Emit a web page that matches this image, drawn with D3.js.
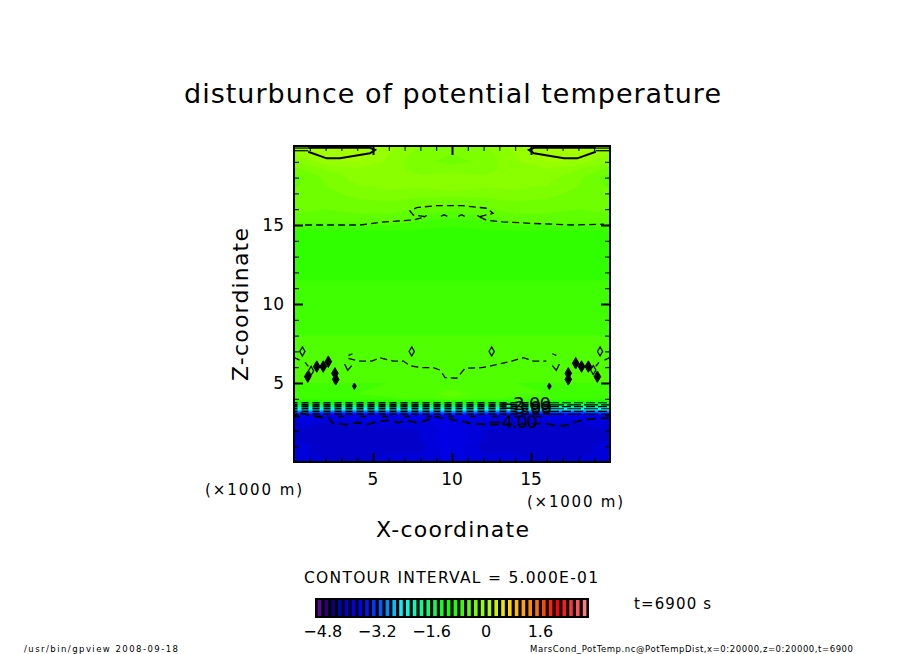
<!DOCTYPE html>
<html>
<head>
<meta charset="utf-8">
<script src="https://cdn.jsdelivr.net/npm/d3@7"></script>
<style>
  html, body { margin: 0; background: #fff; }
  text { font-family: "DejaVu Sans", sans-serif; fill: #000; }
</style>
</head>
<body>
<svg id="chart" width="904" height="654"></svg>
<script>
// values (km and K)
const xLevels = [0, 2, 4, 6, 8, 10, 12, 14, 16, 18, 20];
const zLevels = [0, 0.5, 1, 1.5, 2, 2.5, 2.8, 3, 3.2, 3.4, 3.6, 3.8, 4, 4.3, 5, 6, 7, 8, 9.5, 10.5, 11.5, 13, 14.5, 14.9, 15.2, 15.6, 16, 16.5, 17, 17.5, 18, 18.5, 19, 19.5, 20];
const fieldRows = [
  [-4.15, -4.15, -4.2, -4.2, -4.2, -4.05, -4.2, -4.2, -4.2, -4.15, -4.15],
  [-4.15, -4.25, -4.25, -4.2, -4.2, -4.05, -4.2, -4.2, -4.25, -4.25, -4.15],
  [-4.15, -4.25, -4.2, -4.25, -4.25, -4.0, -4.25, -4.25, -4.2, -4.25, -4.15],
  [-4.2, -4.3, -4.25, -4.25, -4.2, -4.0, -4.2, -4.25, -4.25, -4.3, -4.2],
  [-4.2, -4.3, -4.25, -4.25, -4.2, -4.05, -4.2, -4.25, -4.25, -4.3, -4.2],
  [-4.1, -4.2, -4.15, -4.15, -4.15, -4.0, -4.15, -4.15, -4.15, -4.2, -4.1],
  [-3.9, -4.05, -4.0, -4.0, -3.95, -3.85, -3.95, -4.0, -4.0, -4.05, -3.9],
  [-3.5, -3.7, -3.75, -3.7, -3.6, -3.5, -3.6, -3.7, -3.75, -3.7, -3.5],
  [-2.95, -3.0, -3.0, -3.0, -2.9, -2.85, -2.9, -3.0, -3.0, -3.0, -2.95],
  [-2.25, -2.25, -2.25, -2.2, -2.2, -2.15, -2.2, -2.2, -2.25, -2.25, -2.25],
  [-1.6, -1.55, -1.55, -1.5, -1.5, -1.45, -1.5, -1.5, -1.55, -1.55, -1.6],
  [-0.95, -0.92, -0.9, -0.9, -0.88, -0.85, -0.88, -0.9, -0.9, -0.92, -0.95],
  [-0.68, -0.66, -0.65, -0.62, -0.58, -0.52, -0.58, -0.62, -0.65, -0.66, -0.68],
  [-0.62, -0.62, -0.6, -0.58, -0.54, -0.46, -0.54, -0.58, -0.6, -0.62, -0.62],
  [-0.6, -0.6, -0.6, -0.6, -0.58, -0.56, -0.58, -0.6, -0.6, -0.6, -0.6],
  [-0.58, -0.58, -0.52, -0.5, -0.55, -0.57, -0.55, -0.5, -0.52, -0.58, -0.58],
  [-0.58, -0.58, -0.56, -0.56, -0.58, -0.58, -0.58, -0.56, -0.56, -0.58, -0.58],
  [-0.6, -0.6, -0.6, -0.6, -0.6, -0.6, -0.6, -0.6, -0.6, -0.6, -0.6],
  [-0.61, -0.61, -0.61, -0.61, -0.61, -0.61, -0.61, -0.61, -0.61, -0.61, -0.61],
  [-0.64, -0.64, -0.64, -0.64, -0.64, -0.64, -0.64, -0.64, -0.64, -0.64, -0.64],
  [-0.7, -0.7, -0.7, -0.7, -0.7, -0.7, -0.7, -0.7, -0.7, -0.7, -0.7],
  [-0.74, -0.74, -0.74, -0.74, -0.74, -0.74, -0.74, -0.74, -0.74, -0.74, -0.74],
  [-0.72, -0.72, -0.72, -0.72, -0.72, -0.72, -0.72, -0.72, -0.72, -0.72, -0.72],
  [-0.66, -0.66, -0.66, -0.66, -0.68, -0.7, -0.68, -0.66, -0.66, -0.66, -0.66],
  [-0.46, -0.46, -0.46, -0.5, -0.62, -0.66, -0.62, -0.5, -0.46, -0.46, -0.46],
  [-0.42, -0.43, -0.42, -0.42, -0.5, -0.55, -0.5, -0.42, -0.42, -0.43, -0.42],
  [-0.36, -0.4, -0.36, -0.35, -0.42, -0.48, -0.42, -0.35, -0.36, -0.4, -0.36],
  [-0.36, -0.4, -0.33, -0.3, -0.35, -0.38, -0.35, -0.3, -0.33, -0.4, -0.36],
  [-0.38, -0.35, -0.25, -0.22, -0.25, -0.25, -0.25, -0.22, -0.25, -0.35, -0.38],
  [-0.42, -0.3, -0.2, -0.18, -0.18, -0.12, -0.18, -0.18, -0.2, -0.3, -0.42],
  [-0.45, -0.28, -0.16, -0.16, -0.18, -0.1, -0.18, -0.16, -0.16, -0.28, -0.45],
  [-0.35, -0.2, -0.12, -0.15, -0.25, -0.25, -0.25, -0.15, -0.12, -0.2, -0.35],
  [-0.2, -0.05, 0, -0.12, -0.28, -0.33, -0.28, -0.12, 0, -0.05, -0.2],
  [-0.1, 0.08, 0.08, -0.1, -0.25, -0.3, -0.25, -0.1, 0.08, 0.08, -0.1],
  [-0.05, 0.12, 0.12, -0.05, -0.2, -0.25, -0.2, -0.05, 0.12, 0.12, -0.05]
];

// colour bar
const colorValues = [-5, -4.7, -4.5, -4.2, -3.6, -3, -2.45, -2, -1.1, -0.75, -0.55, -0.35, -0.1, 0.1, 0.6, 1.4, 2.1, 2.6, 3];
const colorHex = ["#6a0aa8", "#300070", "#0a0080", "#0000d8", "#0000ff", "#0070ff", "#00ffff", "#00ffa8", "#10ff00", "#30ff00", "#50ff00", "#70ff00", "#90ff00", "#a8ff00", "#ffe000", "#ff8000", "#ff0000", "#ff4040", "#ff9090"];
const colorTicks = [-4.8, -3.2, -1.6, 0, 1.6];

// contour lines, [x, z]
const line0Left = [[0.9, 19.64], [2.07, 19.22], [2.91, 19.22], [4.81, 19.54], [5.13, 19.75], [4.81, 19.89], [0.9, 19.89]];
const line0Right = [[19.1, 19.64], [17.93, 19.22], [17.09, 19.22], [15.19, 19.54], [14.87, 19.75], [15.19, 19.89], [19.1, 19.89]];
const line0Rims = [
  [[0, 19.7], [0.9, 19.7]], [[0, 19.87], [0.9, 19.87]],
  [[19.1, 19.7], [20, 19.7]], [[19.1, 19.87], [20, 19.87]]
];
const lineUpperLeft = [[0.7, 15], [4.18, 15], [5.44, 15.17], [7.53, 15.32], [8.1, 15.45]];
const lineUpperRight = [[11.77, 15.5], [12.2, 15.3], [13.2, 15.2], [15.1, 15.1], [17.6, 15], [19.6, 15.05]];
const lineUpperLoop = [[8.3, 15.53], [7.55, 15.63], [7.34, 15.89], [7.76, 16.1], [9.03, 16.23], [10.61, 16.23], [12.2, 16.06], [12.6, 15.74], [11.77, 15.53]];
const lineWave = [[3.44, 6.56], [4.07, 6.39], [4.92, 6.39], [5.44, 6.6], [6.28, 6.39], [6.92, 6.39], [7.34, 6.09], [8.08, 5.97], [8.82, 5.97], [9.24, 5.82], [9.56, 5.34], [10.3, 5.3], [10.82, 5.93], [11.88, 5.97], [12.72, 6.14], [13.78, 6.39], [14.51, 6.6], [15.15, 6.39], [15.97, 6.39]];
const lineWiggles = [
  [[0.05, 6.6], [0.35, 6.45]],
  [[0.7, 6.3], [0.9, 6.05]],
  [[3.2, 6.2], [3.4, 5.8], [3.65, 6.1]],
  [[3.45, 6.75], [3.7, 6.85]],
  [[16.35, 6.85], [16.6, 6.75]],
  [[16.35, 6.1], [16.6, 5.8], [16.8, 6.2]],
  [[19.1, 6.05], [19.3, 6.3]],
  [[19.65, 6.45], [19.95, 6.6]],
  [[8.2, 15.5], [8.4, 15.6]],
  [[11.6, 15.6], [11.8, 15.5]],
  [[9.3, 15.55], [9.5, 15.65], [9.7, 15.55]],
  [[10.4, 15.55], [10.6, 15.65], [10.8, 15.55]]
];
const lineMinus4 = [[0.4, 3.1], [1.4, 2.87], [2.2, 2.8], [2.46, 2.46], [3.3, 2.37], [4, 2.5], [4.65, 2.37], [5.3, 2.56], [5.9, 2.65], [6.6, 2.5], [7.2, 2.6], [7.9, 2.47], [8.4, 2.65], [9, 2.85], [9.7, 2.72], [10.5, 2.6], [11.2, 2.43], [12.5, 2.37], [16, 2.43], [16.6, 2.3], [17.2, 2.3], [17.7, 2.5], [18.5, 2.7], [19.1, 2.75], [19.9, 2.8]];
const stackLevels = [3.75, 3.62, 3.5, 3.37, 3.2, 3.03];
const sparseLevel = 2.88;
const stackBreak = 16.2;
const blobX = [0.87, 1.44, 1.85, 2.17, 2.59, 2.64, 19.2, 18.63, 18.2, 17.83, 17.36, 17.36];
const blobZ = [5.4, 6.04, 6.04, 6.35, 5.61, 5.23, 5.4, 6.04, 6.04, 6.25, 5.61, 5.23];
const dotX = [3.82, 16.16];
const dotZ = [4.8, 4.8];
const ringX = [0.53, 7.45, 12.51, 19.37, 1.08, 18.94];
const ringZ = [7, 7, 7, 7, 5.77, 5.82];
const lineLabels = ["−2.00", "−3.00"];

const width = 904;
const height = 654;
const plot = { left: 294, right: 610, top: 146, bottom: 462 };

const svg = d3.select("#chart");
const x = d3.scaleLinear().domain([0, 20]).range([plot.left, plot.right]);
const z = d3.scaleLinear().domain([0, 20]).range([plot.bottom, plot.top]);
const color = d3.scaleLinear().domain(colorValues).range(colorHex);

// grid index -> km, the z levels are not evenly spaced
const xOfIndex = d3.scaleLinear().domain(d3.range(xLevels.length)).range(xLevels).clamp(true);
const zOfIndex = d3.scaleLinear().domain(d3.range(zLevels.length)).range(zLevels).clamp(true);
const gridPath = d3.geoPath(d3.geoTransform({
  point(i, j) { this.stream.point(x(xOfIndex(i - 0.5)), z(zOfIndex(j - 0.5))); }
}));

svg.append("clipPath").attr("id", "plotClip").append("rect")
  .attr("x", plot.left).attr("y", plot.top)
  .attr("width", plot.right - plot.left).attr("height", plot.bottom - plot.top);

// filled bands
const bands = d3.contours()
  .size([xLevels.length, zLevels.length])
  .thresholds(d3.range(-5, 3, 0.1))
  .smooth(true)(fieldRows.flat());

const field = svg.append("g").attr("clip-path", "url(#plotClip)");
field.selectAll("path").data(bands).join("path")
  .attr("d", gridPath)
  .attr("fill", d => color(d.value + 0.05))
  .attr("stroke", d => color(d.value + 0.05))
  .attr("stroke-width", 0.3);

// contour lines
const line = d3.line().x(d => x(d[0])).y(d => z(d[1]));
const lines = svg.append("g").attr("clip-path", "url(#plotClip)").attr("fill", "none").attr("stroke", "#000");

lines.selectAll(".solid").data([line0Left, line0Right]).join("path")
  .attr("class", "solid").attr("d", line).attr("stroke-width", 2);
lines.selectAll(".rim").data(line0Rims).join("path")
  .attr("class", "rim").attr("d", line).attr("stroke-width", 1.2);

lines.selectAll(".dashed").data([lineUpperLeft, lineUpperRight, lineUpperLoop, lineWave]).join("path")
  .attr("class", "dashed").attr("d", line)
  .attr("stroke-width", 1.3).attr("stroke-dasharray", "7 4");
lines.selectAll(".wiggle").data(lineWiggles).join("path")
  .attr("class", "wiggle").attr("d", line).attr("stroke-width", 1.3);

lines.append("path").attr("d", line(lineMinus4))
  .attr("stroke-width", 1.8).attr("stroke-dasharray", "9 5");
lines.append("path").attr("d", line([[0, sparseLevel], [stackBreak, sparseLevel]]))
  .attr("stroke-width", 1.3).attr("stroke-dasharray", "6 16");

// the tightly packed contours of the step
lines.selectAll(".stack").data(stackLevels).join("path")
  .attr("class", "stack")
  .attr("d", d => line([[0, d], [stackBreak, d]]))
  .attr("stroke-width", 1.7).attr("stroke-dasharray", "7 4").attr("stroke-dashoffset", 3.5);
lines.selectAll(".stackRight").data(stackLevels).join("path")
  .attr("class", "stackRight")
  .attr("d", d => line([[stackBreak, d], [20, d]]))
  .attr("stroke-width", 1.2)
  .attr("stroke-dasharray", (d, i) => i % 2 ? "14 3" : "9 3");

// small closed contours
const diamond = d3.symbol().type(d3.symbolDiamond);
lines.selectAll(".blob").data(blobX).join("path")
  .attr("class", "blob")
  .attr("d", diamond.size(38)())
  .attr("fill", "#000")
  .attr("transform", (d, i) => `translate(${x(d)},${z(blobZ[i])})`);
lines.selectAll(".dot").data(dotX).join("path")
  .attr("class", "dot")
  .attr("d", diamond.size(12)())
  .attr("fill", "#000")
  .attr("transform", (d, i) => `translate(${x(d)},${z(dotZ[i])})`);
lines.selectAll(".ring").data(ringX).join("path")
  .attr("class", "ring")
  .attr("d", diamond.size(24)())
  .attr("stroke-width", 1.2)
  .attr("transform", (d, i) => `translate(${x(d)},${z(ringZ[i])})`);

// contour labels
svg.selectAll(".lineLabel").data(lineLabels).join("text")
  .attr("class", "lineLabel")
  .attr("x", (d, i) => 499 + i)
  .attr("y", (d, i) => 410 + i * 4)
  .attr("font-size", 18)
  .attr("textLength", 52)
  .text(d => d);
svg.append("text").attr("x", 488).attr("y", 428).attr("font-size", 18)
  .attr("textLength", 50).text("−4.00");

// axes, ticks point inward
const minorTicks = d3.range(0, 21, 1);
const majorTicks = [5, 10, 15];
const axes = svg.append("g");
function addAxis(axisFn, scale, tx, ty, inward) {
  const fmt = () => "";
  axes.append("g").attr("transform", `translate(${tx},${ty})`)
    .call(axisFn(scale).tickValues(minorTicks).tickSize(inward * 5).tickFormat(fmt))
    .call(g => g.selectAll("line").attr("stroke-width", 1));
  axes.append("g").attr("transform", `translate(${tx},${ty})`)
    .call(axisFn(scale).tickValues(majorTicks).tickSize(inward * 9).tickFormat(fmt))
    .call(g => g.selectAll("line").attr("stroke-width", 2));
}
addAxis(d3.axisBottom, x, 0, plot.bottom, -1);
addAxis(d3.axisBottom, x, 0, plot.top, 1);
addAxis(d3.axisLeft, z, plot.left, 0, -1);
addAxis(d3.axisLeft, z, plot.right, 0, 1);
axes.selectAll(".domain").remove();

svg.append("rect")
  .attr("x", plot.left).attr("y", plot.top)
  .attr("width", plot.right - plot.left).attr("height", plot.bottom - plot.top)
  .attr("fill", "none").attr("stroke", "#000").attr("stroke-width", 2);

svg.selectAll(".xLabel").data(majorTicks).join("text")
  .attr("class", "xLabel")
  .attr("x", d => x(d)).attr("y", 485)
  .attr("text-anchor", "middle").attr("font-size", 17)
  .text(d => d);
svg.selectAll(".zLabel").data(majorTicks).join("text")
  .attr("class", "zLabel")
  .attr("x", 284).attr("y", d => z(d) + 6)
  .attr("text-anchor", "end").attr("font-size", 17)
  .text(d => d);

function label(str, xPos, yPos, size, len) {
  return svg.append("text").attr("x", xPos).attr("y", yPos)
    .attr("font-size", size).attr("textLength", len).text(str);
}

label("disturbunce of potential temperature", 184, 103, 27, 537);
label("(×1000 m)", 205, 495, 15, 97);
label("(×1000 m)", 527, 507, 15, 96);
label("X-coordinate", 376, 537, 22, 153);
label("Z-coordinate", 0, 0, 22, 153)
  .attr("transform", "translate(248,381) rotate(-90)");
label("CONTOUR INTERVAL = 5.000E-01", 304, 583, 15.5, 294);
label("t=6900 s", 634, 609, 15, 77);
label("/usr/bin/gpview   2008-09-18", 24, 652, 8.5, 154);
label("MarsCond_PotTemp.nc@PotTempDist,x=0:20000,z=0:20000,t=6900", 530, 652, 8.5, 323);

// colour bar
const barScale = d3.scaleLinear().domain([-5, 3]).range([316, 588]);
const barBands = d3.range(-5, 2.95, 0.2);
const bar = svg.append("g");
bar.append("rect").attr("x", 315).attr("y", 598).attr("width", 274).attr("height", 20).attr("fill", "#000");
bar.selectAll("rect.band").data(barBands).join("rect")
  .attr("class", "band")
  .attr("x", d => barScale(d) + 1.6)
  .attr("y", 600)
  .attr("width", 3.6)
  .attr("height", 16)
  .attr("fill", d => color(d + 0.1));
svg.selectAll(".barLabel").data(colorTicks).join("text")
  .attr("class", "barLabel")
  .attr("x", d => barScale(d)).attr("y", 637)
  .attr("text-anchor", "middle").attr("font-size", 16)
  .text(d => d3.format("")(d));
</script>
</body>
</html>
